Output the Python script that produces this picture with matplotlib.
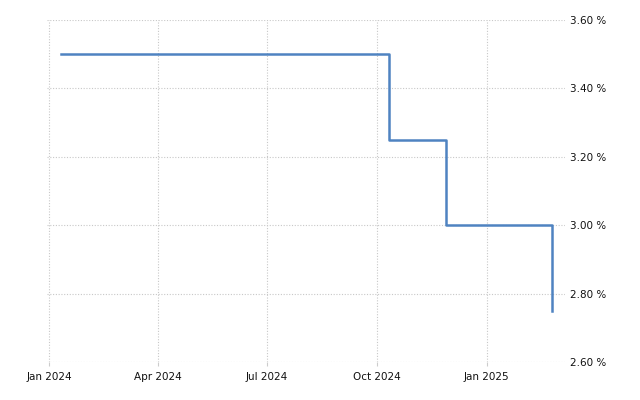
import numpy as np
import pandas as pd
from matplotlib import pyplot as plt
import matplotlib.dates as mdates
from matplotlib.ticker import FuncFormatter

# rate decisions (date, rate %)
dates = ["2024-01-11", "2024-02-22", "2024-04-12", "2024-05-23", "2024-07-11",
         "2024-08-22", "2024-10-11", "2024-11-28", "2025-01-16", "2025-02-25"]
rates = [3.50, 3.50, 3.50, 3.50, 3.50, 3.50, 3.25, 3.00, 3.00, 2.75]

y_ticks = [2.60, 2.80, 3.00, 3.20, 3.40, 3.60]
x_ticks = ["2024-01-01", "2024-04-01", "2024-07-01", "2024-10-01", "2025-01-01"]


def main():
    x = pd.to_datetime(dates)

    fig = plt.figure(figsize=(6.4, 4.0), dpi=100)
    ax = fig.add_axes([0.0734, 0.094, 0.81, 0.856])

    ax.step(x, rates, where="post", color="#4f83c1", linewidth=1.8)

    ax.set_xlim(pd.Timestamp("2023-12-30"), pd.Timestamp("2025-03-08"))
    ax.set_ylim(2.60, 3.60)

    ax.set_xticks(pd.to_datetime(x_ticks))
    ax.xaxis.set_major_formatter(mdates.DateFormatter("%b %Y"))
    ax.set_yticks(y_ticks)
    ax.yaxis.set_major_formatter(FuncFormatter(lambda v, p: f"{v:.2f} %"))

    ax.yaxis.tick_right()
    ax.tick_params(axis="y", length=0, pad=3, labelsize=7.5, labelcolor="#111111")
    ax.tick_params(axis="x", length=3, color="#cccccc", pad=4, labelsize=7.5,
                   labelcolor="#111111")

    for s in ax.spines.values():
        s.set_visible(False)

    ax.grid(True, color="#c8c8c8", linestyle=(0, (1, 1.5)), linewidth=0.8)
    ax.set_axisbelow(True)

    fig.savefig("out.png", dpi=100)


if __name__ == "__main__":
    main()
